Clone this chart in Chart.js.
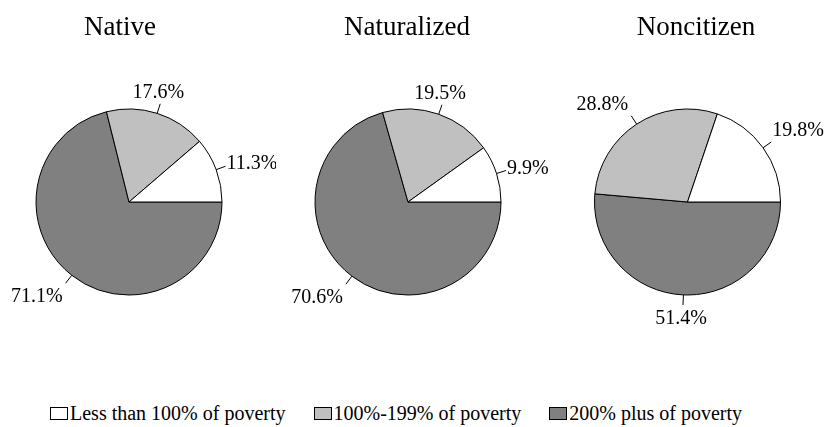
<!DOCTYPE html>
<html>
<head>
<meta charset="utf-8">
<script src="https://cdn.jsdelivr.net/npm/chart.js@4.4.1/dist/chart.umd.min.js"></script>
<style>
    body { margin: 0; background: #fff; width: 828px; height: 427px; position: relative; overflow: hidden;
           font-family: "Liberation Serif", "Times New Roman", serif; }
    canvas { position: absolute; top: 0; }
    #legend { position: absolute; left: 50px; top: 402px; display: flex; font-size: 20px; line-height: 22px;
              color: #000; white-space: nowrap; }
    .item { display: flex; align-items: center; margin-right: 28px; }
    .box { width: 18px; height: 13px; border: 1px solid #000; margin-right: 2px; box-sizing: border-box; }
</style>
</head>
<body>
<canvas id="pie0" width="276" height="340" style="left:0px"></canvas>
<canvas id="pie1" width="276" height="340" style="left:276px"></canvas>
<canvas id="pie2" width="276" height="340" style="left:552px"></canvas>
<div id="legend"></div>
<script>
// data
const categories = ['Less than 100% of poverty', '100%-199% of poverty', '200% plus of poverty'];
const groups = ['Native', 'Naturalized', 'Noncitizen'];
const nativeValues = [11.3, 17.6, 71.1];
const naturalizedValues = [9.9, 19.5, 70.6];
const noncitizenValues = [19.8, 28.8, 51.4];
const sliceColors = ['#ffffff', '#c0c0c0', '#808080'];

// layout (page pixels)
const pieCenters = [129, 408, 687.5];
const titleCenters = [120, 407, 696];
const pieRadius = 93.5;
const pieCenterY = 202;
const canvasW = 276, canvasH = 340;
const serif = '"Liberation Serif", "Times New Roman", Times, "DejaVu Serif", serif';

// titles + outside labels with short leader lines
const pieText = {
    id: 'pieText',
    afterDatasetsDraw(chart, args, opts) {
        const ctx = chart.ctx;
        const ds = chart.data.datasets[0];
        ctx.save();
        ctx.fillStyle = '#000';
        ctx.strokeStyle = '#000';
        ctx.lineWidth = 1;
        ctx.font = '27px ' + serif;
        ctx.textAlign = 'center';
        ctx.textBaseline = 'alphabetic';
        ctx.fillText(opts.title, opts.titleX, 35);

        ctx.font = '20px ' + serif;
        chart.getDatasetMeta(0).data.forEach((arc, i) => {
            const p = arc.getProps(['x', 'y', 'startAngle', 'endAngle', 'outerRadius']);
            const mid = (p.startAngle + p.endAngle) / 2;
            const cos = Math.cos(mid), sin = Math.sin(mid);
            const r = p.outerRadius;
            const ex = p.x + cos * (r + 10), ey = p.y + sin * (r + 10);
            ctx.beginPath();
            ctx.moveTo(p.x + cos * r, p.y + sin * r);
            ctx.lineTo(ex, ey);
            ctx.stroke();

            const up = -sin;
            let tx = ex - 2;
            ctx.textAlign = 'center';
            if (cos > 0.4) { ctx.textAlign = 'left'; tx = ex + 1; }
            else if (cos < -0.4) { ctx.textAlign = 'right'; tx = ex - 3; }
            const dy = Math.abs(up) > 0.5 ? -Math.sign(up) * 12.5 : -up * 12;
            ctx.fillText(ds.data[i].toFixed(1) + '%', tx, ey + dy + 6.8);
        });
        ctx.restore();
    }
};

function drawPie(idx, values) {
    const left = canvasW * idx;
    const padL = pieCenters[idx] - left - pieRadius;
    const padR = canvasW - padL - pieRadius * 2;
    const padT = pieCenterY - pieRadius;
    const padB = canvasH - padT - pieRadius * 2;

    // reversed so the slices run counterclockwise from 3 o'clock
    new Chart(document.getElementById('pie' + idx), {
        type: 'pie',
        data: {
            labels: categories.slice().reverse(),
            datasets: [{
                data: values.slice().reverse(),
                backgroundColor: sliceColors.slice().reverse(),
                borderColor: '#000',
                borderWidth: 1
            }]
        },
        options: {
            responsive: false,
            animation: false,
            devicePixelRatio: 1,
            rotation: 90,
            layout: { padding: { left: padL, right: padR, top: padT, bottom: padB } },
            plugins: {
                legend: { display: false },
                tooltip: { enabled: false },
                pieText: { title: groups[idx], titleX: titleCenters[idx] - left }
            }
        },
        plugins: [pieText]
    });
}

drawPie(0, nativeValues);
drawPie(1, naturalizedValues);
drawPie(2, noncitizenValues);

// legend
const legend = document.getElementById('legend');
categories.forEach((cat, i) => {
    const item = document.createElement('div');
    item.className = 'item';
    item.innerHTML = `<span class="box" style="background:${sliceColors[i]}"></span><span>${cat}</span>`;
    legend.appendChild(item);
});
</script>
</body>
</html>
